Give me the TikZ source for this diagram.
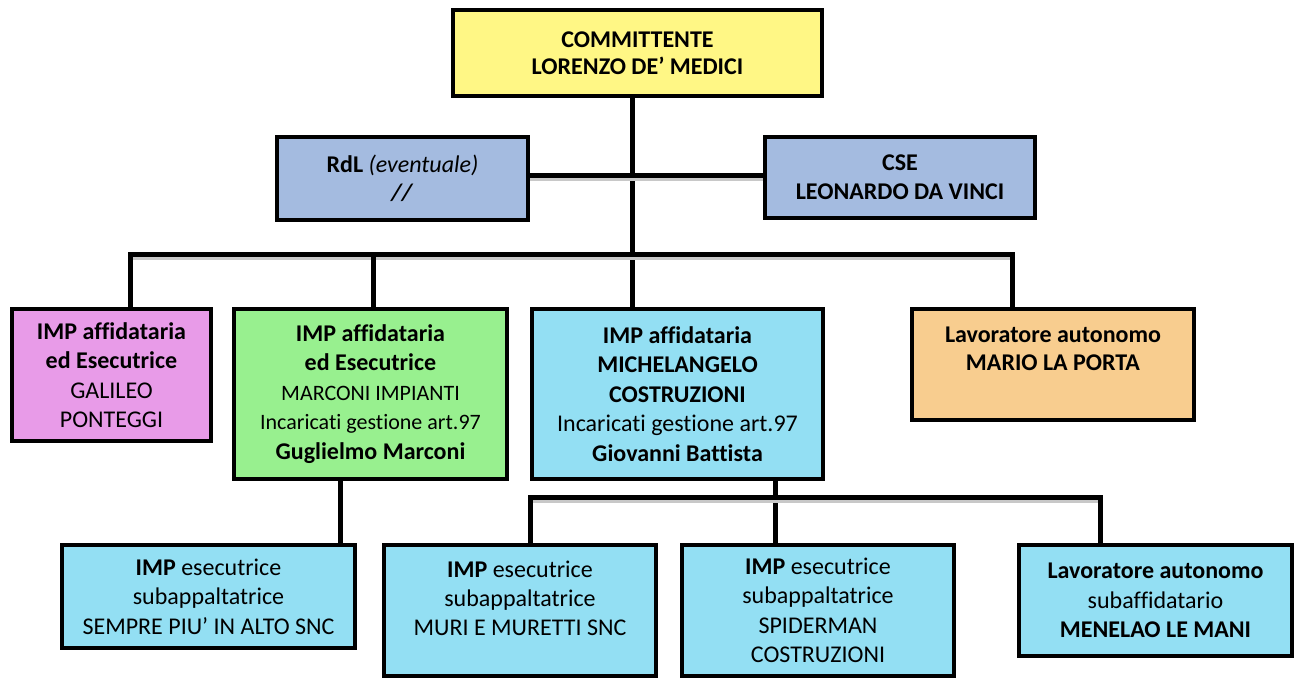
\documentclass[tikz,border=0pt]{standalone}
\usepackage{fontspec}
\setmainfont[Ligatures=NoCommon]{Carlito}
\definecolor{cyellow}{RGB}{255,247,133}
\definecolor{cslate}{RGB}{164,187,224}
\definecolor{cpink}{RGB}{232,155,232}
\definecolor{cgreen}{RGB}{152,240,143}
\definecolor{cblue}{RGB}{147,223,243}
\definecolor{corange}{RGB}{248,205,143}
\definecolor{cshadow}{RGB}{200,200,200}
\pgfdeclarelayer{bg}
\pgfsetlayers{bg,main}
\tikzset{
  box/.style={draw=black, line width=4pt, inner sep=0pt, align=center,
    font=\fontsize{24}{29.5}\selectfont},
  txt/.style={inner sep=0pt, align=center, font=\fontsize{24}{29}\selectfont},
  conn/.style={line width=5pt, black,
    preaction={draw, cshadow, line width=3pt, transform canvas={yshift=-4pt}}}
}
\begin{document}
\begin{tikzpicture}[x=1pt,y=-1pt]
\useasboundingbox (0,0) rectangle (1296,679);

% top level
\node[box, fill=cyellow, minimum width=369pt, minimum height=86pt, font=\fontsize{24}{27.5}\selectfont\bfseries]
  (top) at (637.5,53) {COMMITTENTE\\LORENZO DE’ MEDICI};
\node[box, fill=cslate, minimum width=251pt, minimum height=83pt, font=\fontsize{24}{27.5}\selectfont]
  (rdl) at (402.5,178.5) {\textbf{RdL} \textit{(eventuale)}\\\textbf{\textit{//}}};
\node[box, fill=cslate, minimum width=270pt, minimum height=81pt, font=\fontsize{24}{29}\selectfont\bfseries]
  (cse) at (900,177.5) {CSE\\LEONARDO DA VINCI};

% second level
\node[box, fill=cpink, minimum width=199pt, minimum height=132pt]
  (pink) at (111.5,375) {\textbf{IMP affidataria}\\\textbf{ed Esecutrice}\\GALILEO\\PONTEGGI};
\node[box, fill=cgreen, minimum width=273pt, minimum height=170pt]
  (green) at (370.5,394) {\textbf{IMP affidataria}\\\textbf{ed Esecutrice}\\
  \fontsize{22}{27}\selectfont MARCONI IMPIANTI\\
  \fontsize{22}{27}\selectfont Incaricati gestione art.97\\
  \fontsize{24}{29}\selectfont\textbf{Guglielmo Marconi}};
\node[box, fill=cblue, minimum width=291pt, minimum height=170pt]
  (mich) at (677.5,394) {\textbf{IMP affidataria}\\\textbf{MICHELANGELO}\\\textbf{COSTRUZIONI}\\
  Incaricati gestione art.97\\\textbf{Giovanni Battista}};
\node[box, fill=corange, minimum width=282pt, minimum height=111pt]
  (orange) at (1053,364.5) {};
\node[txt, font=\fontsize{24}{28}\selectfont\bfseries]
  (orangetext) at (1053,349) {Lavoratore autonomo\\MARIO LA PORTA};

% third level
\node[box, fill=cblue, minimum width=293pt, minimum height=103pt]
  (b1) at (208.5,596.5) {\textbf{IMP} esecutrice\\subappaltatrice\\SEMPRE PIU’ IN ALTO SNC};
\node[box, fill=cblue, minimum width=272pt, minimum height=131pt]
  (b2) at (520,610.5) {};
\node[txt] (b2text) at (520,598) {\textbf{IMP} esecutrice\\subappaltatrice\\MURI E MURETTI SNC};
\node[box, fill=cblue, minimum width=272pt, minimum height=131pt]
  (b3) at (818,610.5) {\textbf{IMP} esecutrice\\subappaltatrice\\SPIDERMAN\\COSTRUZIONI};
\node[box, fill=cblue, minimum width=273pt, minimum height=111pt]
  (b4) at (1155.5,600.5) {\textbf{Lavoratore autonomo}\\subaffidatario\\\textbf{MENELAO LE MANI}};

% junction coordinates
\coordinate (busL) at (130,255);
\coordinate (busA) at (373,255);
\coordinate (busC) at (632,255);
\coordinate (busR) at (1012,255);
\coordinate (link) at (0,176);
\coordinate (gdrop) at (340,0);
\coordinate (bus2L) at (530,497);
\coordinate (bus2M) at (775,497);
\coordinate (bus2R) at (1100,497);

\begin{pgfonlayer}{bg}
\fill[white] (0,0) rectangle (1296,679);
\draw[conn] (top.south -| busC) -- (mich.north -| busC);
\draw[conn] (pink.north -| busL) -- (busL) -- (busR) -- (orange.north -| busR);
\draw[conn] (busA) -- (green.north -| busA);
\draw[conn] (rdl.east |- link) -- (cse.west |- link);
\draw[conn] (green.south -| gdrop) -- (b1.north -| gdrop);
\draw[conn] (mich.south -| bus2M) -- (b3.north -| bus2M);
\draw[conn] (b2.north -| bus2L) -- (bus2L) -- (bus2R) -- (b4.north -| bus2R);
\end{pgfonlayer}
\end{tikzpicture}
\end{document}
